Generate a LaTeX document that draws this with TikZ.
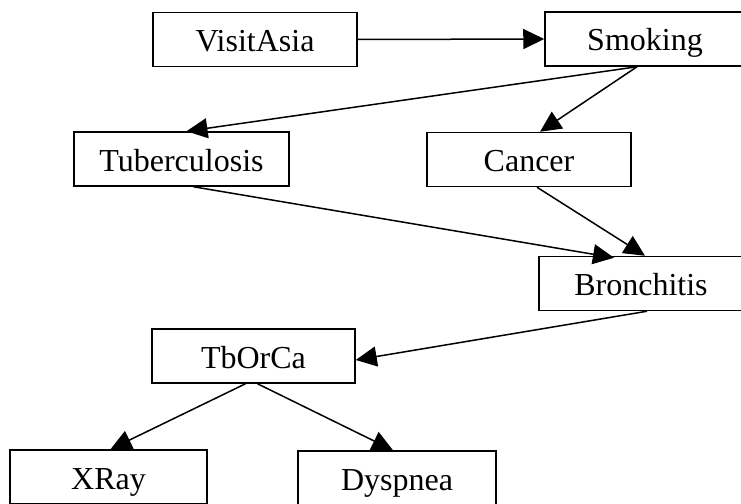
\documentclass[tikz,border=0pt]{standalone}
\usepackage{fontspec}
\setmainfont{Liberation Serif}
\usetikzlibrary{arrows.meta}
\begin{document}
\begin{tikzpicture}[x=1pt,y=-1pt,
  var/.style={draw,line width=1.5pt,rectangle,inner sep=0pt,
    minimum height=54pt,text height=30pt,text depth=6pt,
    font=\fontsize{32}{37}\selectfont},
  link/.style={line width=1.5pt,-{Triangle[length=21pt,width=20pt]}}]
\useasboundingbox (0,0) rectangle (741,503);
\clip (0,0) rectangle (741,503);
% variables of the network
\node[var,minimum width=204pt] (visit)  at (255,39.5)  {VisitAsia};
\node[var,minimum width=200pt] (smoke)  at (645,39)    {Smoking};
\node[var,minimum width=215pt] (tub)    at (181.5,159) {Tuberculosis};
\node[var,minimum width=204pt] (cancer) at (529,159.5) {Cancer};
\node[var,minimum width=204pt] (bronc)  at (641,283.5) {Bronchitis};
\node[var,minimum width=203pt] (tborca) at (253.5,356) {TbOrCa};
\node[var,minimum width=197pt] (xray)   at (108.5,477) {XRay};
\node[var,minimum width=198pt] (dysp)   at (397,478)   {Dyspnea};
% dependencies
\draw[link] (visit.east) -- (smoke.west);
\draw[link] ([xshift=-8pt]smoke.south) -- ([xshift=5pt]tub.north);
\draw[link] ([xshift=-8pt]smoke.south) -- ([xshift=11pt]cancer.north);
\draw[link] ([xshift=8pt]cancer.south) -- ([xshift=4pt]bronc.north);
\draw[link] ([xshift=12pt]tub.south) -- ([xshift=-27pt,yshift=-2pt]bronc.north);
\draw[link] ([xshift=6pt]bronc.south) -- ([yshift=-4pt]tborca.east);
\draw[link] ([xshift=-8pt]tborca.south) -- ([xshift=2pt]xray.north);
\draw[link] ([xshift=4pt]tborca.south) -- ([xshift=-4pt]dysp.north);
\end{tikzpicture}
\end{document}
